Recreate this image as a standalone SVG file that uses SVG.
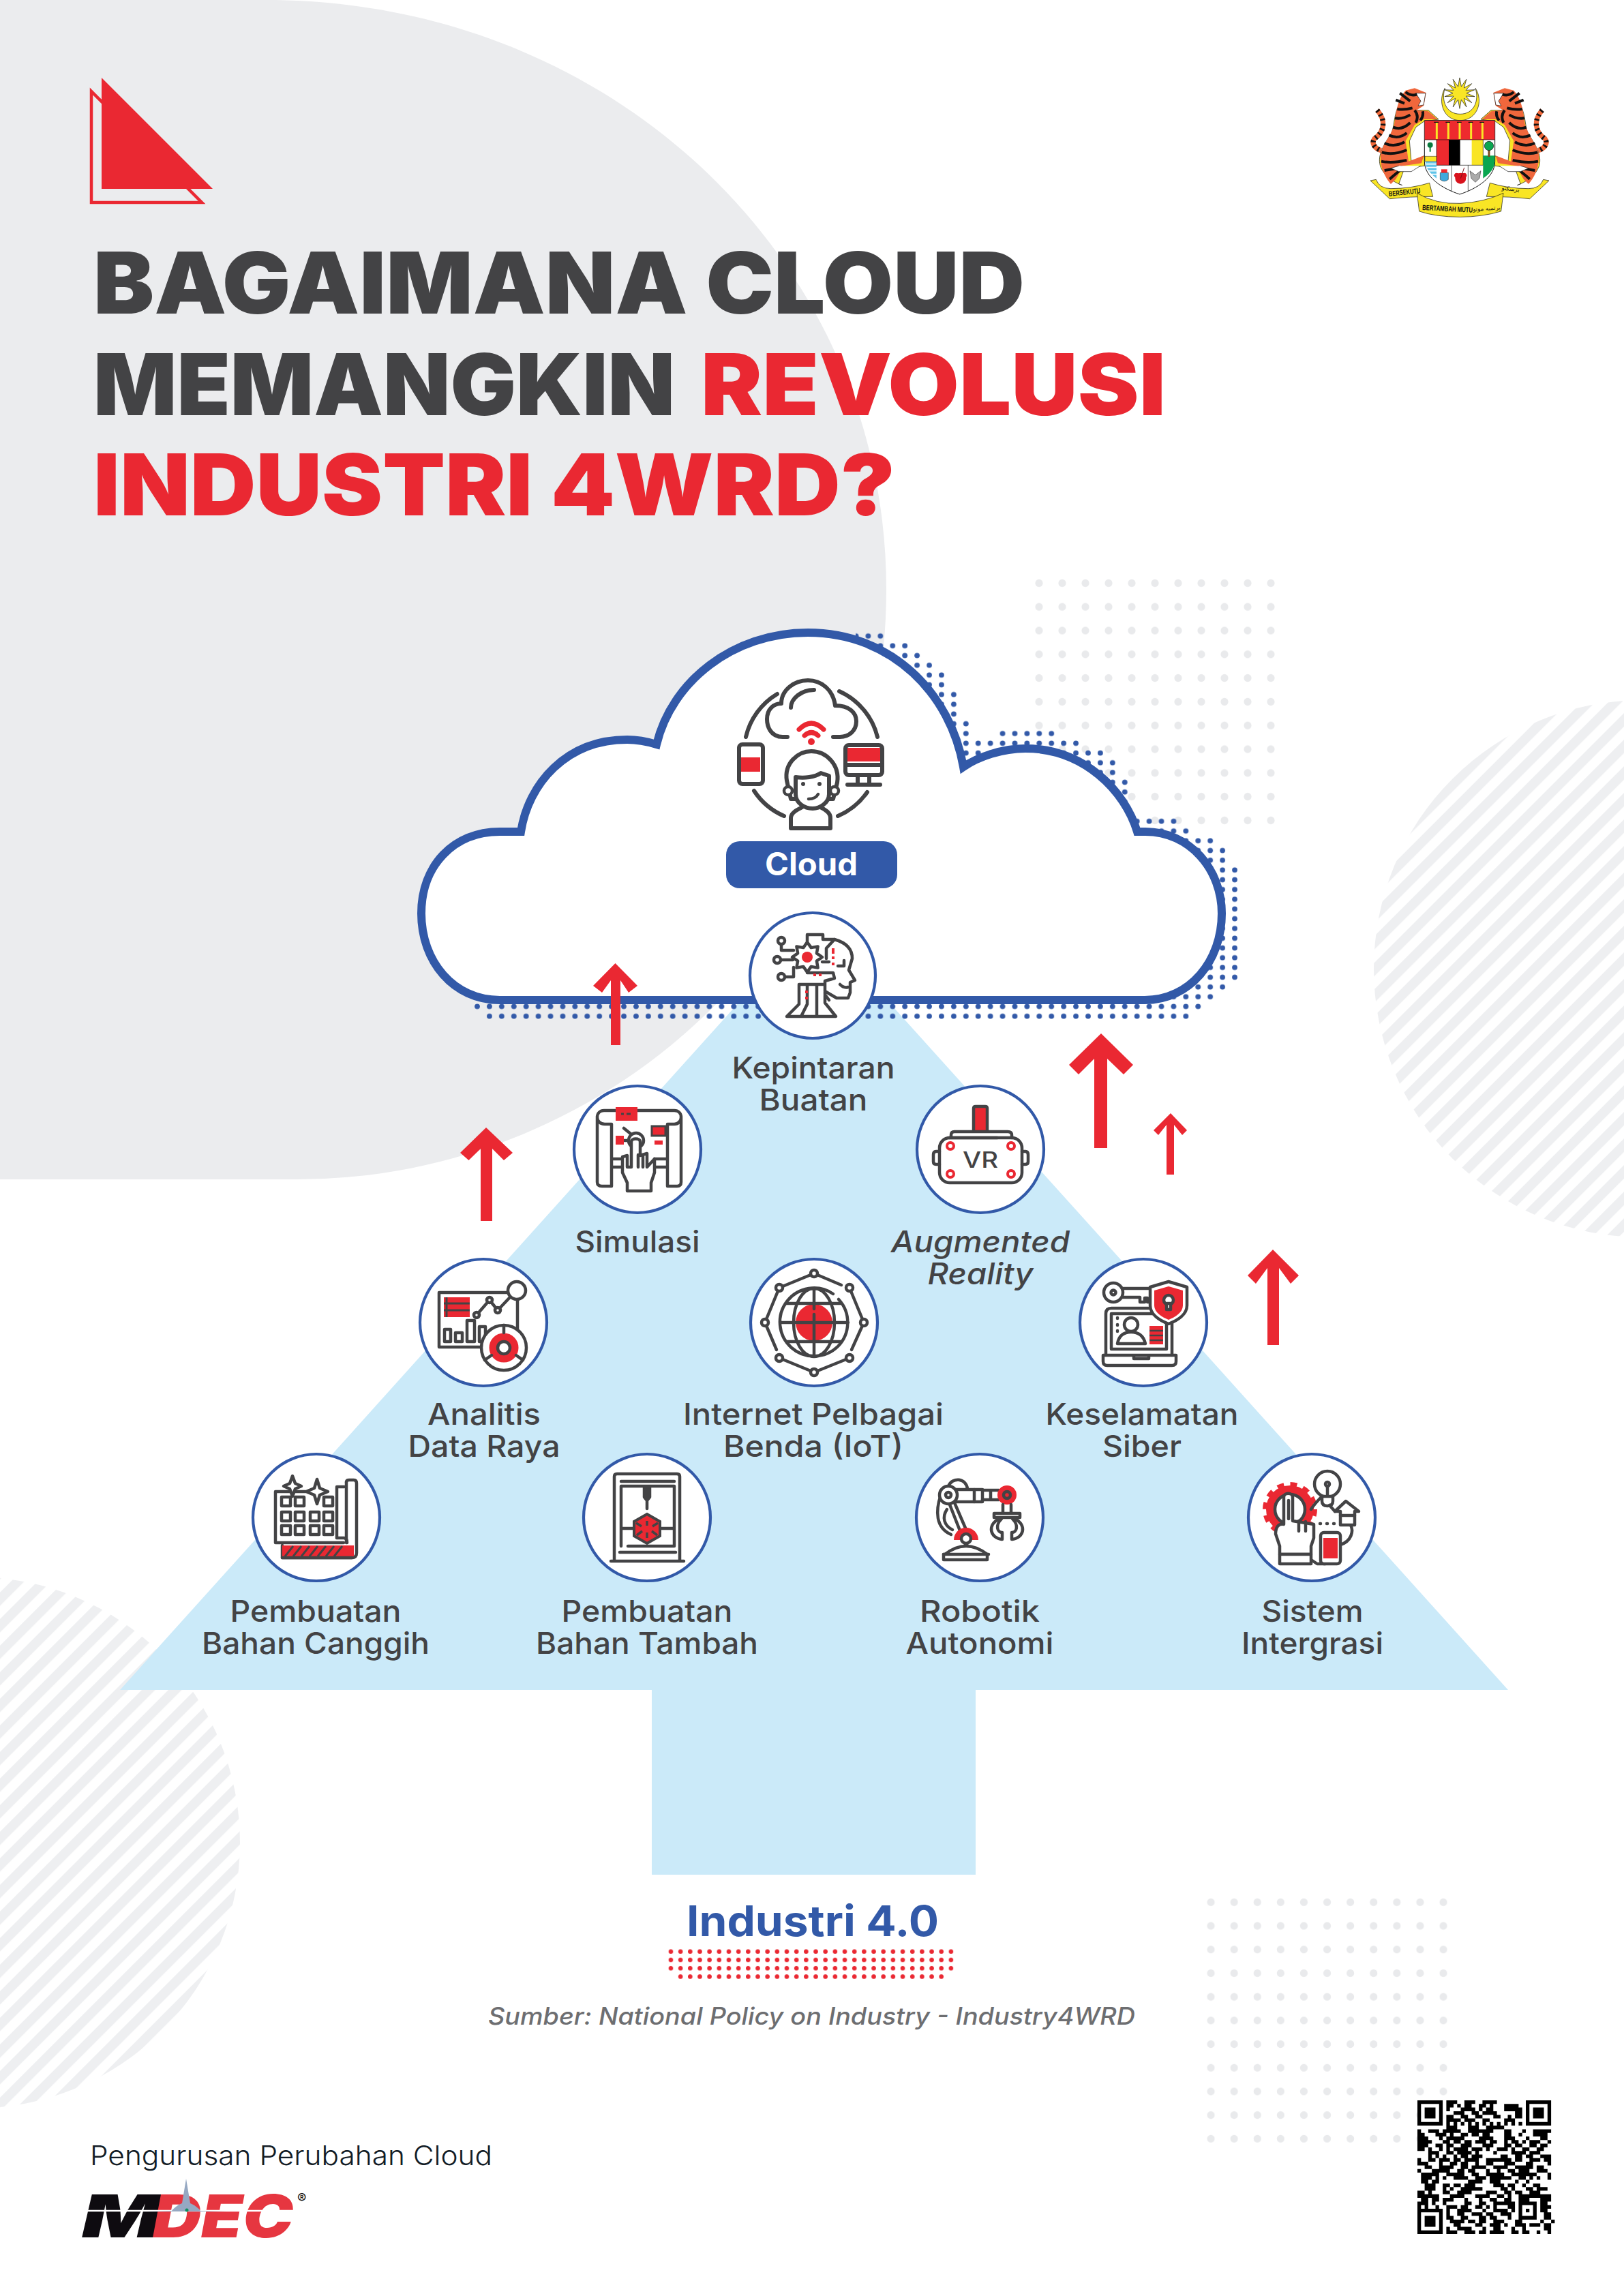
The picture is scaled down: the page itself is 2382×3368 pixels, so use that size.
<svg xmlns="http://www.w3.org/2000/svg" width="2382" height="3368" viewBox="0 0 2382 3368">
<style>
.s{fill:none;stroke:#434345;stroke-width:4.5;stroke-linecap:round;stroke-linejoin:round}
.w{fill:#fff;stroke:#434345;stroke-width:4.5;stroke-linecap:round;stroke-linejoin:round}
.r{fill:#ea2832}
.rs{fill:none;stroke:#ea2832;stroke-linecap:round}
.n{fill:#fff;stroke:#3259a8;stroke-width:4.2}
.t{font-family:Inter,"Noto Sans",sans-serif;font-size:44px;font-weight:500;fill:#434345;text-anchor:middle}
.h{font-family:Inter,"Noto Sans",sans-serif;font-size:125px;font-weight:900;fill:#434345}
.red{fill:#ea2832}
.a{fill:#ea2832}
.b{font-family:"Liberation Sans",sans-serif;font-weight:700;font-size:32px;fill:#111}
.y{fill:#f9e525;stroke:#111;stroke-width:2}
.k{fill:none;stroke:#111;stroke-linecap:round}
</style>
<defs>
<pattern id="hatch" patternUnits="userSpaceOnUse" width="27.58" height="40" patternTransform="rotate(45) translate(24.5 0)"><rect width="14" height="40" fill="#eeeff1"/></pattern>
<pattern id="gd1" patternUnits="userSpaceOnUse" x="1507" y="838" width="34" height="34.8"><circle cx="17" cy="17.4" r="5.6" fill="#e9eaec"/></pattern>
<pattern id="gd2" patternUnits="userSpaceOnUse" x="1759" y="2773" width="34.1" height="34.7"><circle cx="17.05" cy="17.35" r="5.6" fill="#e9eaec"/></pattern>
<pattern id="bd" patternUnits="userSpaceOnUse" x="691.04" y="925.85" width="17.92" height="14.3"><circle cx="8.96" cy="7.15" r="3.9" fill="#3259a8"/></pattern>
<pattern id="rd" patternUnits="userSpaceOnUse" x="976.9" y="2856.6" width="14.17" height="12.25"><circle cx="7.08" cy="6.12" r="3.3" fill="#ea2832"/></pattern>
<g id="tiger">
<path d="M180 245C220 290 212 340 168 370C152 392 172 415 198 422" fill="none" stroke="#f26a3b" stroke-width="22"/>
<path d="M180 245C220 290 212 340 168 370C152 392 172 415 198 422" fill="none" stroke="#111" stroke-width="22" stroke-dasharray="8 14"/>
<path d="M290 575C250 560 215 540 195 495C180 450 200 410 240 350C262 310 245 250 300 185L355 245L405 245L450 285L385 295L350 320L322 380L330 470L390 445L388 490L300 500L275 570Z" fill="#f9e525" stroke="#111" stroke-width="2"/>
<path d="M305 158L345 148L395 168L385 225L352 245L405 250L445 285L385 285L345 310L305 380L318 470L385 445L375 478L295 490L262 548L240 570C215 540 192 500 195 440C200 400 235 370 255 310C262 270 265 200 305 158Z" fill="#f0673c"/>
<path d="M350 170L393 170L384 222L360 226L372 205Z" fill="#fff" stroke="#111" stroke-width="2"/>
<path d="M305 165Q330 185 355 175M268 240Q300 245 335 235M258 280Q295 285 325 265M250 320Q290 335 325 300M232 355Q275 375 310 345M212 390Q255 410 300 385M200 430Q250 445 310 420M198 470Q245 480 310 465M212 510Q250 505 290 495M235 548Q255 530 280 510M345 245Q365 270 350 300M380 250Q385 270 370 290M262 200L300 215M280 170L325 205" fill="none" stroke="#111" stroke-width="12"/>
<path d="M275 490L240 500L275 515L330 515L370 490" fill="#fff" stroke="#111" stroke-width="2"/>
</g>
</defs>
<rect width="2382" height="3368" fill="#fff"/>
<g id="background">
<path d="M0 0H390C900 0 1300 385 1300 865A865 865 0 0 1 435 1730H0Z" fill="#ebecee"/>
<rect x="1507" y="838" width="374" height="383" fill="url(#gd1)"/>
<rect x="1759" y="2773" width="375.1" height="381.7" fill="url(#gd2)"/>
<circle cx="2409" cy="1421" r="394" fill="url(#hatch)"/>
<circle cx="-38" cy="2703" r="390" fill="url(#hatch)"/>
</g>
<g id="logo-triangle">
<polygon points="134,134 134,297 296,297" fill="none" stroke="#ea2832" stroke-width="4.5"/>
<polygon points="149,114 149,277 312,277" fill="#ea2832"/>
</g>
<g id="coat-of-arms" transform="translate(1960 80) scale(.33333)">
<use href="#tiger"/>
<use href="#tiger" transform="translate(1086 0) scale(-1 1)"/>
<path d="M478 148C445 205 470 290 545 290C620 290 650 205 612 148C630 205 605 262 545 262C485 262 460 205 478 148Z" class="y"/>
<polygon class="y" points="543,102 550,141 572.5,109 562,147 596,128 570,157 609,155 573,170 609,185 570,183 596,212 562,193 572.5,231 550,199 543,238 536,199 513.5,231 524,193 490,212 516,183 477,185 513,170 477,155 516,157 490,128 524,147 513.5,109 536,141"/>
<path d="M388 290H698V470C698 540 620 590 543 615C466 590 388 540 388 470Z" fill="#fff" stroke="#111" stroke-width="3"/>
<rect x="389" y="291" width="308" height="84" fill="#ee2a2e"/>
<path d="M442 300V372M493 300V372M543 300V372M593 300V372M643 300V372" stroke="#f9e525" stroke-width="9" fill="none"/>
<path d="M430 298H450M481 298H501M531 298H551M581 298H601M631 298H651" stroke="#111" stroke-width="4" fill="none"/>
<rect x="441" y="375" width="54" height="112" fill="#ee2a2e"/>
<rect x="495" y="375" width="50" height="112" fill="#000"/>
<rect x="596" y="375" width="50" height="112" fill="#f9e525"/>
<path d="M389 375H697M441 375V487M646 375V487M441 487H646M508 487V600M580 487V600" stroke="#111" stroke-width="2" fill="none"/>
<path d="M646 445H697V470C697 500 675 525 646 545Z" fill="#0aa650"/>
<path d="M672 410V450" stroke="#7a4a1c" stroke-width="9"/><circle cx="672" cy="402" r="20" fill="#0aa650" stroke="#111" stroke-width="2"/>
<path d="M390 448H441V470H390Z" fill="#f9e525" stroke="#111" stroke-width="1.5"/>
<path d="M392 472H441V545C415 525 392 500 392 472Z" fill="#5fc4e8"/>
<path d="M395 482H441M398 497H441M405 512H441M418 527H441" stroke="#fff" stroke-width="5"/>
<path d="M413 395V428" stroke="#0a7a3f" stroke-width="6"/><circle cx="413" cy="398" r="12" fill="#0a7a3f"/>
<path d="M457 520H493V550Q475 565 457 550Z" fill="#3fa9dc" stroke="#111" stroke-width="1.5"/><path d="M462 520V505H488V520Z" fill="#ee2a2e"/>
<circle cx="547" cy="545" r="24" fill="#d8121c"/><circle cx="530" cy="532" r="11" fill="#d8121c"/><circle cx="563" cy="532" r="11" fill="#d8121c"/><path d="M547 545L563 498" stroke="#7a1015" stroke-width="3"/>
<path d="M588 512L612 530L636 512L630 545L612 562L594 545Z" fill="#aaa" stroke="#111" stroke-width="1.5"/>
<path d="M150 555L175 550Q190 590 240 590Q330 590 410 565L425 625Q320 625 235 635Z" class="y"/>
<path d="M936 555L911 550Q896 590 846 590Q756 590 676 565L661 625Q766 625 851 635Z" class="y"/>
<path d="M355 610Q440 660 545 655Q650 650 735 610L725 690Q640 715 545 715Q440 715 365 690Z" class="y"/>
<text class="b" x="232" y="624" textLength="140" lengthAdjust="spacingAndGlyphs" transform="rotate(-6 232 624)">BERSEKUTU</text>
<text class="b" x="378" y="684" textLength="222" lengthAdjust="spacingAndGlyphs" transform="rotate(3 378 684)">BERTAMBAH MUTU</text>
<text x="662" y="686" font-family="'DejaVu Sans',sans-serif" font-size="26" fill="#111" text-anchor="middle" transform="rotate(-4 662 686)">برتمبه موتو</text>
<text x="766" y="600" font-family="'DejaVu Sans',sans-serif" font-size="26" fill="#111" text-anchor="middle" transform="rotate(6 766 600)">برسکتو</text>
</g>
<g id="title">
<text class="h" x="137" y="460" textLength="1366" lengthAdjust="spacingAndGlyphs">BAGAIMANA CLOUD</text>
<text class="h" x="137" y="609" textLength="853" lengthAdjust="spacingAndGlyphs">MEMANGKIN</text>
<text class="h red" x="1028" y="609" textLength="682" lengthAdjust="spacingAndGlyphs">REVOLUSI</text>
<text class="h red" x="137" y="756" textLength="1176" lengthAdjust="spacingAndGlyphs">INDUSTRI 4WRD?</text>
</g>
<g id="tree">
<path d="M1194 1348L2212 2479H1431V2750H956V2479H176Z" fill="#cbeaf9"/>
</g>
<g id="cloud">
<path d="M1255 925.85H1300.3V940.15H1336.2V954.45H1354.1V968.75H1372V983.05H1390V1011.65H1407.8V1054.55H1425.8V1083.15H1587V1097.45H1623V1111.75H1640.8V1140.35H1658.7V1197.55H1730.4V1211.85H1748.3V1226.15H1784.2V1240.45H1802V1269.05H1820V1440.65H1802V1454.95H1784.2V1469.25H1766.2V1483.55H1748.3V1497.85H709V1483.55H691V1469.25H800V1300H1255ZM1460 1068.85H1551V1083.15H1460Z" fill="url(#bd)"/>
<path d="M733 1467C665 1467 618 1410 618 1340C618 1270 665 1220 733 1220L764 1220C775 1150 830 1085 920 1085C935 1085 950 1088 963 1092C985 1000 1075 928 1185 928C1310 928 1395 1020 1413 1125C1435 1110 1470 1098 1504 1098C1590 1098 1650 1160 1668 1220L1680 1220C1745 1220 1792 1275 1792 1340C1792 1410 1745 1467 1679 1467Z" fill="#fff" stroke="#3259a8" stroke-width="12"/>
<g stroke-width="6">
<path class="s" style="stroke-width:6" d="M1155 1081H1148C1130 1081 1125 1065 1125 1055C1125 1040 1135 1032 1146 1032C1146 1012 1165 998 1185 998C1205 998 1222 1012 1225 1035C1245 1035 1256 1045 1256 1058C1256 1072 1245 1081 1232 1081H1222M1160 1038C1160 1025 1175 1012 1194 1012"/>
<path class="s" style="stroke-width:6" d="M1094 1081A100 100 0 0 1 1140 1018M1231 1014A100 100 0 0 1 1287 1081M1106 1160A100 100 0 0 0 1150 1197M1272 1162A100 100 0 0 1 1229 1197"/>
<path class="rs" stroke-width="7" d="M1172 1070Q1190 1052 1208 1070M1180 1079Q1190 1070 1200 1079"/>
<circle class="r" cx="1190" cy="1088" r="5"/>
<rect x="1084" y="1092" width="35" height="58" rx="5" class="s" style="stroke-width:6"/>
<rect x="1087" y="1111" width="28" height="21" class="r"/>
<rect x="1240" y="1093" width="54" height="44" rx="5" class="s" style="stroke-width:6"/>
<rect x="1243" y="1097" width="48" height="20" class="r"/>
<path class="s" style="stroke-width:6" d="M1240 1122H1294M1258 1138V1150M1275 1138V1150M1243 1151H1291"/>
<path class="w" style="stroke-width:6" d="M1154 1145C1150 1120 1170 1102 1190 1102C1212 1102 1232 1122 1228 1148L1222 1172L1160 1172Z"/>
<path class="w" style="stroke-width:6" d="M1160 1215V1200C1160 1190 1175 1186 1180 1182H1200C1206 1186 1218 1190 1218 1200V1215Z"/>
<path class="w" style="stroke-width:6" d="M1167 1140C1180 1142 1195 1140 1204 1134L1216 1138V1165C1216 1178 1202 1186 1192 1186C1180 1186 1167 1178 1167 1165Z"/>
<circle cx="1178" cy="1150" r="3" fill="#434345"/><circle cx="1202" cy="1150" r="3" fill="#434345"/>
<path class="s" d="M1186 1172Q1196 1172 1200 1165"/>
<circle class="w" cx="1156" cy="1160" r="6"/><circle class="w" cx="1224" cy="1160" r="6"/>
</g>
<rect x="1065" y="1234" width="251" height="69" rx="20" fill="#3259a8"/>
<text x="1190" y="1284" font-family="Inter,sans-serif" font-size="46" font-weight="700" fill="#fff" text-anchor="middle" textLength="136" lengthAdjust="spacingAndGlyphs">Cloud</text>
</g>
<g id="connectors">
<polygon class="a" points="902.5,1413 935,1446 922,1456 910,1438 910,1533 896,1533 896,1438 883,1456 870,1446"/>
<polygon class="a" points="713,1654 752,1691 739,1702 722,1685 722,1791 705,1791 705,1685 687.5,1702 675,1691"/>
<polygon class="a" points="1615,1516 1662,1562 1648,1576 1624,1553 1624,1684 1605,1684 1605,1553 1582,1576 1568,1562"/>
<polygon class="a" points="1717,1633 1741,1658 1734,1665 1722,1650 1722,1723 1711,1723 1711,1650 1699,1665 1692,1658"/>
<polygon class="a" points="1867,1833 1905,1871 1893,1883 1876,1860 1876,1973 1859,1973 1859,1860 1842,1883 1830,1871"/>
</g>
<g id="node-kepintaran" transform="translate(1192 1431)">
<circle class="n" r="92"/>
<path class="s" d="M-46 -45V-37H-28M-46 -23H-29M-40 2H-28V-12M-8 -50V-60H15V-53H32C50 -48 58 -38 58 -25L53 -8L62 7L55 10V25L52 33H35L18 23M32 -53L20 -40V-25M-8 -4H30L32 4L18 8V13M-20 13H18V40L34 60H-38L-20 42ZM-8 13V42L-17 60M6 13V60M18 28L24 36M14 -20H24"/>
<polygon class="w" transform="translate(-8 -27)" points="0,-22 5.7,-13.9 15.6,-15.6 13.9,-5.7 22,0 13.9,5.7 15.6,15.6 5.7,13.9 0,22 -5.7,13.9 -15.6,15.6 -13.9,5.7 -22,0 -13.9,-5.7 -15.6,-15.6 -5.7,-13.9"/>
<circle class="r" cx="-8" cy="-27" r="8"/>
<circle class="w" cx="-46" cy="-51" r="5"/><circle class="w" cx="-52" cy="-23" r="5"/><circle class="w" cx="-46" cy="2" r="5"/>
<path class="r" d="M28 -40h4v8h-4zM28 -28h4v4h-4zM28 -19h4v4h-4zM1 -3h4v4h-4zM9 -3h4v4h-4zM-11 22h4v4h-4zM-11 31h4v4h-4z"/>
<path class="s" d="M37 -14L46 -14M46 -22V-14M40 13Q46 19 52 17"/>
<text class="t" x="1" y="151" textLength="239" lengthAdjust="spacingAndGlyphs">Kepintaran</text>
<text class="t" x="1" y="198" textLength="159" lengthAdjust="spacingAndGlyphs">Buatan</text>
</g>
<g id="node-simulasi" transform="translate(935 1686)">
<circle class="n" r="93"/>
<path class="s" d="M-38 -37H-48C-55 -37 -59 -42 -59 -47C-59 -53 -55 -57 -49 -57H54C60 -57 64 -53 64 -47C64 -42 60 -37 54 -37H44M-59 -47V48Q-59 54 -52 54H-38V-37M64 -47V48Q64 54 58 54H44V-37M-38 14H-22M-38 26H-22M25 14H44M25 26H44M-20 -31L-4 -18M-20 -13H-13"/>
<rect class="r" x="-32" y="-62" width="32" height="20"/>
<path d="M-24 -52h4M-16 -52h6" stroke="#434345" stroke-width="3"/>
<rect class="r" x="-32" y="-20" width="12" height="13"/>
<rect x="21" y="-34" width="20" height="14" fill="#ea2832" stroke="#434345" stroke-width="3"/>
<rect class="r" x="25" y="-13" width="12" height="6"/>
<circle class="w" cx="-2" cy="-13" r="11"/>
<path class="w" d="M-22 11L-15 9V26H-9V-11C-9 -17 4 -17 4 -11V9L14 6V26L25 14V34L20 49V61H-15V49L-22 34Z"/>
<path class="s" d="M1 8V26M8 8V26"/>
<text class="t" y="151" textLength="183" lengthAdjust="spacingAndGlyphs">Simulasi</text>
</g>
<g id="node-ar" transform="translate(1438 1686)">
<circle class="n" r="93"/>
<rect x="-10" y="-63" width="20" height="37" rx="3" class="r"/>
<path class="s" d="M-10 -28V-60Q-10 -63 -7 -63H7Q10 -63 10 -60V-28"/>
<path class="s" d="M-43 -17V-21Q-43 -26 -38 -26H40Q46 -26 46 -21V-17M-46 -17H25"/>
<rect class="s" x="-60" y="-17" width="121" height="66" rx="15"/>
<path class="s" d="M-60 3H-65Q-69 3 -69 8V18Q-69 22 -65 22H-60M61 3H66Q70 3 70 8V18Q70 22 66 22H61"/>
<g fill="#fff" stroke="#ea2832" stroke-width="4"><circle cx="-44" cy="-5" r="5"/><circle cx="45" cy="-5" r="5"/><circle cx="-44" cy="36" r="5"/><circle cx="45" cy="36" r="5"/></g>
<text x="0" y="27" font-family="Inter,sans-serif" font-size="32" font-weight="500" fill="#434345" text-anchor="middle" textLength="52" lengthAdjust="spacingAndGlyphs">VR</text>
<text class="t" y="151" font-style="italic" textLength="262" lengthAdjust="spacingAndGlyphs">Augmented</text>
<text class="t" y="198" font-style="italic" textLength="155" lengthAdjust="spacingAndGlyphs">Reality</text>
</g>
<g id="node-analitis" transform="translate(709 1940)">
<circle class="n" r="93"/>
<path class="s" d="M36 -44H-65V36H-5M50 -34V10"/>
<rect class="r" x="-58" y="-37" width="38" height="29"/>
<path d="M-58 -28H-20M-58 -18H-20M-54 -37V-8" stroke="#434345" stroke-width="3"/>
<circle class="w" cx="49" cy="-47" r="13"/>
<path class="s" d="M-10 -11L9 -33L21 -18L38 -36"/>
<circle class="w" cx="-10" cy="-11" r="4"/><circle class="w" cx="9" cy="-33" r="4"/><circle class="w" cx="21" cy="-18" r="4"/>
<rect class="s" x="-57" y="10" width="9" height="18"/><rect class="s" x="-41" y="15" width="10" height="13"/><rect class="s" x="-24" y="-3" width="11" height="31"/><rect class="s" x="-6" y="6" width="9" height="22"/>
<circle class="w" cx="30" cy="37" r="33"/>
<circle cx="30" cy="37" r="15" fill="none" stroke="#ea2832" stroke-width="13"/>
<circle class="w" cx="30" cy="37" r="9"/>
<path class="s" d="M30 4V15M2 55L12 48M58 55L48 48"/>
<text class="t" x="1" y="150" textLength="166" lengthAdjust="spacingAndGlyphs">Analitis</text>
<text class="t" x="1" y="197" textLength="223" lengthAdjust="spacingAndGlyphs">Data Raya</text>
</g>
<g id="node-internet" transform="translate(1194 1940)">
<circle class="n" r="93"/>
<circle class="r" r="27"/>
<path class="s" d="M28 -42A50 50 0 1 0 35 35A50 50 0 0 0 36 -34M0 -50A30 50 0 0 0 0 50A30 50 0 0 0 0 -50M-50 0H50M-40 -28H40M-40 28H40M0 -50V-20M0 -12V50"/>
<path class="s" d="M0 -72L-51 -51L-72 0L-55 40M-51 52L0 73L52 52M55 40L73 0L52 -51M0 -72L40 -55"/>
<g class="w"><circle class="w" cy="-72" r="5"/><circle class="w" cx="-51" cy="-51" r="5"/><circle class="w" cx="-72" r="5"/><circle class="w" cx="-51" cy="52" r="5"/><circle class="w" cy="73" r="5"/><circle class="w" cx="52" cy="52" r="5"/><circle class="w" cx="73" r="5"/><circle class="w" cx="52" cy="-51" r="5"/></g>
<text class="t" x="-1" y="150" textLength="382" lengthAdjust="spacingAndGlyphs">Internet Pelbagai</text>
<text class="t" x="-1" y="197" textLength="264" lengthAdjust="spacingAndGlyphs">Benda (IoT)</text>
</g>
<g id="node-keselamatan" transform="translate(1677 1940)">
<circle class="n" r="93"/>
<circle class="w" cx="-44" cy="-44" r="14"/><circle class="s" cx="-44" cy="-44" r="3.5"/>
<path class="s" d="M-31 -50H11M-31 -37H-5V-30H2V-36H6V-30H12V-37"/>
<path class="w" d="M-55 48V-13Q-55 -21 -47 -21H34Q42 -21 42 -13V48"/>
<path class="s" d="M-47 39V-13H34V39H-47ZM-59 48H48V57Q48 63 42 63H-53Q-59 63 -59 57ZM-14 48V53H8V48"/>
<circle class="w" cx="-18" cy="3" r="10"/>
<path class="s" d="M-38 31Q-35 14 -18 14Q-1 14 3 31Z"/>
<rect class="r" x="9" y="5" width="20" height="27"/>
<path d="M9 12H29M9 19H29M9 26H29" stroke="#434345" stroke-width="2.5"/>
<path class="s" d="M-38 -7v1M-38 3v1M-38 12v1"/>
<path d="M10 -52L37 -60L64 -52V-25C64 -12 50 -3 37 2C24 -3 10 -12 10 -25Z" class="w"/>
<path d="M16 -47L37 -53L58 -47V-25C58 -15 47 -8 37 -4C27 -8 16 -15 16 -25Z" class="r"/>
<circle class="w" cx="37" cy="-33" r="7"/><path class="w" d="M34 -28H40V-19H34Z"/>
<text class="t" x="-2" y="150" textLength="283" lengthAdjust="spacingAndGlyphs">Keselamatan</text>
<text class="t" x="-2" y="197" textLength="116" lengthAdjust="spacingAndGlyphs">Siber</text>
</g>
<g id="node-canggih" transform="translate(464 2226)">
<circle class="n" r="93"/>
<path class="s" d="M41 -45H30V30M-60 -38H-16M-60 -38V37H40"/>
<path class="s" d="M30 30H40Q45 30 45 37M44 -52Q44 -55 48 -55H55Q59 -55 59 -50V52Q59 59 52 59H-50V41"/>
<path class="s" d="M44 -52V37"/>
<rect class="r" x="-50" y="41" width="105" height="16"/>
<path d="M-46 57L-34 42M-34 57L-22 42M-22 57L-10 42M-10 57L2 42M2 57L14 42M14 57L26 42M26 57L38 42" stroke="#434345" stroke-width="3"/>
<path class="s" d="M-50 59H52"/>
<g class="s"><rect x="-51" y="-30" width="13" height="13"/><rect x="-31" y="-30" width="13" height="13"/><rect x="11" y="-30" width="13" height="13"/><rect x="-51" y="-8" width="13" height="13"/><rect x="-31" y="-8" width="13" height="13"/><rect x="-9" y="-8" width="13" height="13"/><rect x="11" y="-8" width="13" height="13"/><rect x="-51" y="12" width="13" height="13"/><rect x="-31" y="12" width="13" height="13"/><rect x="-9" y="12" width="13" height="13"/><rect x="11" y="12" width="13" height="13"/></g>
<path class="w" d="M-35 -61L-31 -50L-22 -46L-31 -42L-35 -31L-39 -42L-48 -46L-39 -50Z"/>
<path class="w" d="M1 -56L5 -43L17 -38L5 -33L1 -20L-3 -33L-15 -38L-3 -43Z"/>
<text class="t" x="-1" y="153" textLength="251" lengthAdjust="spacingAndGlyphs">Pembuatan</text>
<text class="t" x="-1" y="200" textLength="334" lengthAdjust="spacingAndGlyphs">Bahan Canggih</text>
</g>
<g id="node-tambah" transform="translate(949 2226)">
<circle class="n" r="93"/>
<path class="s" d="M-48 64V-60Q-48 -64 -44 -64H44Q48 -64 48 -60V64M-53 64H54M-38 42V-46H40V42M-38 -53H40M-40 51H42M-28 42H40M-38 16H-18M18 16H40M0 -45V-13M-4 -45H4V-30L0 -25L-4 -30Z"/>
<polygon points="0,-5 19,6 19,27 0,38 -19,27 -19,6" fill="#ea2832" stroke="#434345" stroke-width="4"/>
<path d="M0 5V12M0 22V30M-16 8L-8 13M16 8L8 13M-15 26L-7 20M15 26L7 20" stroke="#434345" stroke-width="3.5" fill="none"/>
<text class="t" y="153" textLength="251" lengthAdjust="spacingAndGlyphs">Pembuatan</text>
<text class="t" y="200" textLength="326" lengthAdjust="spacingAndGlyphs">Bahan Tambah</text>
</g>
<g id="node-robotik" transform="translate(1437 2226)">
<circle class="n" r="93"/>
<path class="s" d="M-57 -33C-65 -10 -65 15 -42 25M-48 -12C-56 0 -52 12 -40 18M-46 -46C-40 -60 -20 -58 -18 -42"/>
<path class="s" d="M-46 -24L-26 27M-38 -24L-16 27"/>
<path class="r" d="M-38 33A18 18 0 0 1 -2 33Z"/>
<circle class="w" cx="-20" cy="31" r="7"/>
<path class="w" d="M-51 54Q-20 30 11 54V62H-53V54Z"/><path class="s" d="M-53 54H13"/>
<rect class="w" x="-36" y="-41" width="40" height="18"/>
<path class="s" d="M-8 -41V-23M4 -40H28M4 -26H28M16 -40V-26"/>
<circle class="r" cx="40" cy="-33" r="14"/><circle class="s" cx="40" cy="-33" r="5"/>
<circle class="w" cx="-46" cy="-33" r="13"/><circle class="s" cx="-46" cy="-33" r="4"/>
<path class="s" d="M34 -19V-6M46 -19V-6M21 -6H59M21 0H59V-6M21 -6V0M28 2C10 12 16 30 32 32M52 2C70 12 64 30 48 32M32 2C22 12 26 22 33 22V32M48 2C58 12 54 22 47 22V32"/>
<text class="t" y="153" textLength="176" lengthAdjust="spacingAndGlyphs">Robotik</text>
<text class="t" y="200" textLength="217" lengthAdjust="spacingAndGlyphs">Autonomi</text>
</g>
<g id="node-sistem" transform="translate(1924 2226)">
<circle class="n" r="93"/>
<circle cx="-32" cy="-12" r="37" fill="none" stroke="#ea2832" stroke-width="6" stroke-dasharray="10 9.4"/>
<circle cx="-32" cy="-12" r="29" fill="none" stroke="#ea2832" stroke-width="12"/>
<circle class="w" cx="-32" cy="-12" r="22"/>
<path class="s" d="M-1 -12Q4 -20 14 -30M20 68H8L-1 62M42 40C58 35 62 20 57 11"/>
<circle class="w" cx="23" cy="-49" r="19"/>
<circle class="s" cx="23" cy="-49" r="3"/><path class="s" d="M23 -46V-34"/>
<path class="w" d="M15 -31H31V-24Q31 -17 23 -17Q15 -17 15 -24Z"/>
<path class="s" d="M26 -18L34 -9"/>
<path class="w" d="M34 -9L50 -24L69 -9H63V11H42V-9Z"/>
<path class="s" d="M42 -3H63"/>
<path class="s" d="M12 9h1M22 9h1M32 9h1" stroke-width="4"/>
<rect class="w" x="13" y="22" width="29" height="46" rx="5"/>
<rect class="r" x="17" y="30" width="21" height="30"/>
<path class="w" d="M-41 10V-30C-41 -37 -28 -37 -28 -30V5L3 10V30L-1 42V54H-47V42L-53 24C-53 15 -49 8 -41 10Z"/>
<path class="s" d="M-19 5V20M-9 6V20M-34 -25V2"/>
<rect class="w" x="-47" y="54" width="46" height="14"/>
<text class="t" x="1" y="153" textLength="149" lengthAdjust="spacingAndGlyphs">Sistem</text>
<text class="t" x="1" y="200" textLength="208" lengthAdjust="spacingAndGlyphs">Intergrasi</text>
</g>
<g id="footer">
<text x="1192" y="2840" font-family="Inter,sans-serif" font-size="62" font-weight="700" fill="#3259a8" text-anchor="middle" textLength="370" lengthAdjust="spacingAndGlyphs">Industri 4.0</text>
<rect x="976.9" y="2856.6" width="425.1" height="36.75" fill="url(#rd)"/>
<rect x="991.07" y="2893.35" width="396.76" height="12.25" fill="url(#rd)"/>
<text x="716" y="2970" font-family="Inter,sans-serif" font-size="35" font-style="italic" font-weight="500" fill="#6d6e71" textLength="949" lengthAdjust="spacingAndGlyphs">Sumber: National Policy on Industry - Industry4WRD</text>
<text x="132" y="3176" font-family="Inter,sans-serif" font-size="40" font-weight="300" fill="#131c26" textLength="590" lengthAdjust="spacingAndGlyphs">Pengurusan Perubahan Cloud</text>
</g>
<g id="mdec-logo">
<text x="120" y="3282" font-family="Inter,sans-serif" font-size="87" font-weight="900" font-style="italic" fill="#0e0b10" textLength="116" lengthAdjust="spacingAndGlyphs">M</text>
<text x="224" y="3282" font-family="Inter,sans-serif" font-size="87" font-weight="900" font-style="italic" fill="#e63640" textLength="206" lengthAdjust="spacingAndGlyphs">DEC</text>
<path d="M120 3243H440" stroke="#fff" stroke-width="2.5"/>
<path d="M273 3196L279 3232C285 3234 292 3240 294 3243L333 3244H215L252 3243C254 3240 261 3234 267 3232Z" fill="#96a8c2"/>
<circle cx="274" cy="3242" r="2.5" fill="#109060"/>
<text x="436" y="3232" font-family="Inter,sans-serif" font-size="20" fill="#111">®</text>
</g>
<g id="qr">
<rect x="2079" y="3081" width="196" height="196" fill="#fff" fill-opacity=".85"/>
<g transform="translate(2079 3081) scale(5.3)">
<path fill-rule="evenodd" fill="#000" d="M0 0h7v7h-7zM1 1v5h5v-5zM2 2h3v3h-3zM30 0h7v7h-7zM31 1v5h5v-5zM32 2h3v3h-3zM0 30h7v7h-7zM1 31v5h5v-5zM2 32h3v3h-3z"/>
<path stroke="#000" stroke-width="1" fill="none" d="M8 .5h3m2 0h3m2 0h4
M8 1.5h2m1 0h1m1 0h2m2 0h2m1 0h1m3 0h4
M8 2.5h1m3 0h4m1 0h1m1 0h2m3 0h5
M10 3.5h3m2 0h2m1 0h4m5 0h2
M8 4.5h2m2 0h2m2 0h2m3 0h2m2 0h1m1 0h2
M8 5.5h4m1 0h3m2 0h2m4 0h3
M8 6.5h1m1 0h1m1 0h1m1 0h1m1 0h1m1 0h1m1 0h1m1 0h1m1 0h1m1 0h1m1 0h1
M8 7.5h3m3 0h3m2 0h5
M0 8.5h1m2 0h3m1 0h5m2 0h7m3 0h2m3 0h1m2 0h5
M0 9.5h2m3 0h3m1 0h1m2 0h2m1 0h2m1 0h2m4 0h2m2 0h1m3 0h4
M0 10.5h3m3 0h1m1 0h5m4 0h4m3 0h3m3 0h1m3 0h2
M0 11.5h4m3 0h2m1 0h2m1 0h2m1 0h3m1 0h2m2 0h1m1 0h2m1 0h1m1 0h3m2 0h1
M0 12.5h3m2 0h2m1 0h2m2 0h3m3 0h3m3 0h2m1 0h2m2 0h2m1 0h2
M0 13.5h2m1 0h1m2 0h1m1 0h1m1 0h4m1 0h3m1 0h1m2 0h3m1 0h1m2 0h2m2 0h2
M3 14.5h3m2 0h2m1 0h4m1 0h1m4 0h1m4 0h4m1 0h3
M3 15.5h1m1 0h1m1 0h1m2 0h1m1 0h2m1 0h3m5 0h2m2 0h2m1 0h2m2 0h3
M0 16.5h1m2 0h2m1 0h3m1 0h2m1 0h4m2 0h7m1 0h2m2 0h3m1 0h2
M0 17.5h3m3 0h1m2 0h2m1 0h2m2 0h1m2 0h2m3 0h3m3 0h2m4 0h1
M2 18.5h2m2 0h4m2 0h2m1 0h4m2 0h4m2 0h5m1 0h2
M0 19.5h1m3 0h5m2 0h2m1 0h2m3 0h1m2 0h1m2 0h2m1 0h3m2 0h3
M1 20.5h5m2 0h5m2 0h2m2 0h5m2 0h7m3 0h1
M1 21.5h3m1 0h1m1 0h1m2 0h4m2 0h3m1 0h6m2 0h2m1 0h1m1 0h1m2 0h1
M1 22.5h2m1 0h2m8 0h4m2 0h3m4 0h1m2 0h1
M2 23.5h3m2 0h2m1 0h2m1 0h3m5 0h3m1 0h2m2 0h1m2 0h2
M2 24.5h3m2 0h1m1 0h1m2 0h6m5 0h2m1 0h1m3 0h2m1 0h3
M0 25.5h2m1 0h1m3 0h2m2 0h4m4 0h3m2 0h2m1 0h2m2 0h3
M0 26.5h6m3 0h4m3 0h4m2 0h2m1 0h1m2 0h9
M1 27.5h2m1 0h2m1 0h3m3 0h1m3 0h1m2 0h2m2 0h2m2 0h3m3 0h3
M0 28.5h3m1 0h1m2 0h1m5 0h2m2 0h2m2 0h6m1 0h5m1 0h2
M0 29.5h1m1 0h1m2 0h1m2 0h3m1 0h2m2 0h2m1 0h1m1 0h1m3 0h2m1 0h1m3 0h1m1 0h3
M8 30.5h1m2 0h4m3 0h1m2 0h4m1 0h1m1 0h1m1 0h1m1 0h1m1 0h2
M8 31.5h1m2 0h2m2 0h3m1 0h2m2 0h3m2 0h1m3 0h1m2 0h2
M8 32.5h2m2 0h2m3 0h2m1 0h2m3 0h1m2 0h5m2 0h2
M9 33.5h4m1 0h2m1 0h2m2 0h3m3 0h2m5 0h1m2 0h1
M10 34.5h2m4 0h2m2 0h3m1 0h1m2 0h3m1 0h3m1 0h2
M8 35.5h1m2 0h4m3 0h1m2 0h2m3 0h1m2 0h1m5 0h2
M8 36.5h3m2 0h3m1 0h2m1 0h4m2 0h2m1 0h2m2 0h1m2 0h1"/>
</g>
</g>
</svg>
